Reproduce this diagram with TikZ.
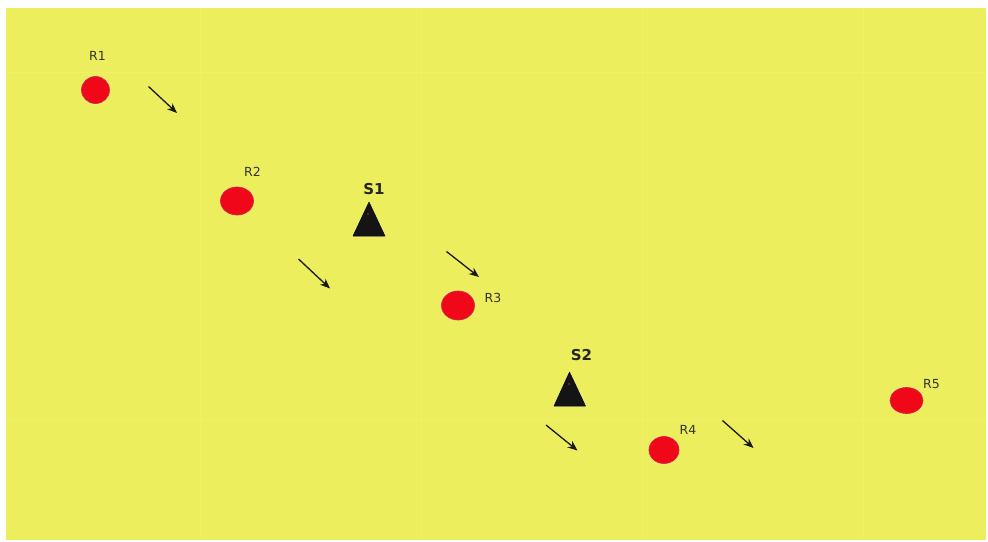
\documentclass[tikz,border=0pt]{standalone}
\usepackage{fontspec}
\setmainfont{DejaVu Sans}
\usetikzlibrary{arrows.meta,shapes.geometric}
\definecolor{bgyellow}{RGB}{237,238,94}
\definecolor{seam}{RGB}{240,240,104}
\definecolor{recvred}{RGB}{240,8,24}
\definecolor{redrim}{RGB}{205,40,90}
\definecolor{dotred}{RGB}{120,25,25}
\begin{document}
\begin{tikzpicture}[x=1pt,y=-1pt,
  recv/.style 2 args={ellipse, fill=recvred, draw=redrim, line width=0.7pt,
    inner sep=0pt, minimum width=#1pt, minimum height=#2pt},
  rlabel/.style={font=\fontsize{12.5}{14}\selectfont, text=black!80, inner sep=0pt},
  slabel/.style={font=\fontsize{15}{17}\selectfont\bfseries, text=black!85, inner sep=0pt},
  tri/.style={fill=black!92, draw=black!70!blue, line width=0.5pt, line join=round},
  motion/.style={-{Stealth[length=10pt,width=8pt]}, line width=1.3pt, black!90},
  seamline/.style={seam, line width=1pt}]
\useasboundingbox (0,0) rectangle (988,541);
\fill[bgyellow] (6,8) rectangle (986,540);
% faint tile seams
\draw[seamline] (6,72) -- (986,72);
\draw[seamline] (6,420) -- (986,420);
\draw[seamline] (200,8) -- (200,540);
\draw[seamline] (421,8) -- (421,540);
\draw[seamline] (642,8) -- (642,540);
\draw[seamline] (863,8) -- (863,540);
% receivers
\node[recv={28}{27}] (R1) at (95.5,90) {};
\node[recv={33}{28}] (R2) at (237,201) {};
\node[recv={33}{29}] (R3) at (458,305.5) {};
\node[recv={30}{27}] (R4) at (664,450) {};
\node[recv={33}{26}] (R5) at (906.5,400.5) {};
\node[rlabel] (L1) at (97.5,55.5) {R1};
\node[rlabel] (L2) at (252.5,172) {R2};
\node[rlabel] (L3) at (493,297.5) {R3};
\node[rlabel] (L4) at (688,430) {R4};
\node[rlabel] (L5) at (931.5,384.5) {R5};
% sources
\coordinate (S1) at (369,224);
\coordinate (S2) at (569.5,394);
\fill[tri] (369,202) -- (385,236) -- (353,236) -- cycle;
\fill[tri] (569.5,372) -- (585.5,406) -- (554,406) -- cycle;
\fill[dotred] (368,214) circle (1.4);
\fill[dotred] (569,384) circle (1.4);
\node[slabel] (LS1) at (374,189) {S1};
\node[slabel] (LS2) at (581.5,355.5) {S2};
% motion arrows
\coordinate (a1s) at (148.5,86.5);  \coordinate (a1e) at (177,113);
\coordinate (a2s) at (298.5,259);   \coordinate (a2e) at (330,288.5);
\coordinate (a3s) at (446.5,251.5); \coordinate (a3e) at (479,277);
\coordinate (a4s) at (546,425);     \coordinate (a4e) at (577.5,450.5);
\coordinate (a5s) at (722.5,420.5); \coordinate (a5e) at (753.5,448);
\draw[motion] (a1s) -- (a1e);
\draw[motion] (a2s) -- (a2e);
\draw[motion] (a3s) -- (a3e);
\draw[motion] (a4s) -- (a4e);
\draw[motion] (a5s) -- (a5e);
\end{tikzpicture}
\end{document}
